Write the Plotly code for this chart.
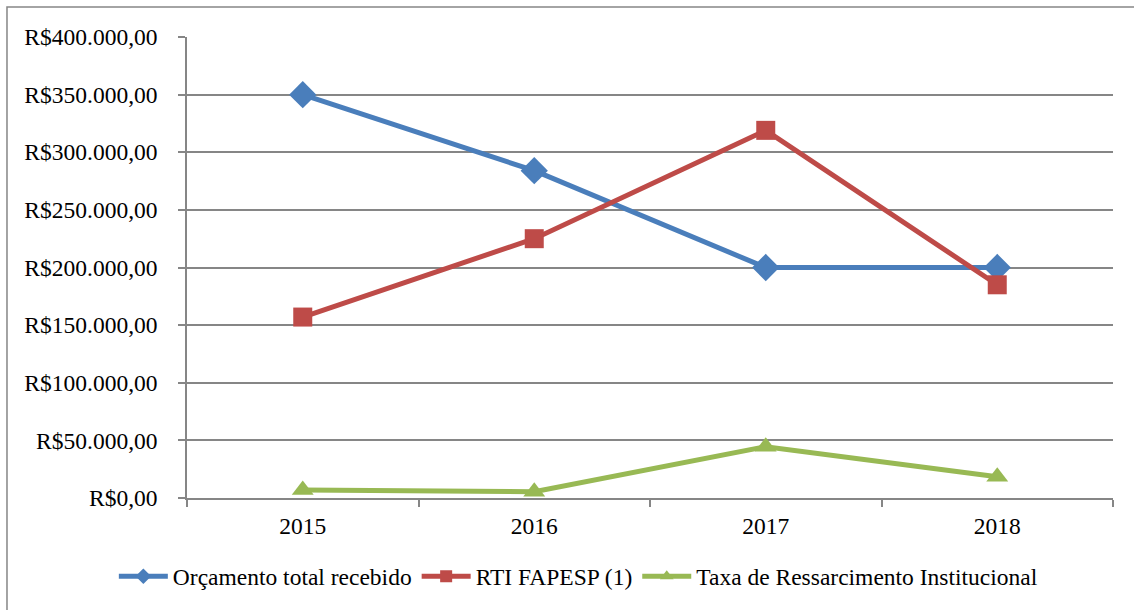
import plotly.graph_objects as go

years = ["2015", "2016", "2017", "2018"]
orcamento = [350000, 284000, 200000, 200000]
rti_fapesp = [157000, 225000, 319000, 185000]
taxa_ressarcimento = [7000, 5500, 44500, 18500]

SERIES = [
    ("Orçamento total recebido", orcamento, "#4A7EBB", "diamond", 21),
    ("RTI FAPESP (1)", rti_fapesp, "#BE4B48", "square", 19),
    ("Taxa de Ressarcimento Institucional", taxa_ressarcimento, "#98B954", "triangle-up", 19),
]

FONT = "Liberation Serif"
GRID = "#868686"

fig = go.Figure()
for name, vals, color, symbol, size in SERIES:
    fig.add_scatter(
        x=years, y=vals, name=name, mode="lines+markers",
        line=dict(color=color, width=5),
        marker=dict(symbol=symbol, size=size, color=color),
    )

# outer chart-area frame: only its top and left edges fall inside the picture
fig.add_shape(
    type="rect", xref="paper", yref="paper",
    x0=-0.1944, x1=1.06, y0=-0.27, y1=1.065,
    line=dict(color=GRID, width=1.5), layer="below",
)

fig.update_layout(
    width=1134, height=610,
    margin=dict(l=187, r=21, t=37, b=112, autoexpand=False),
    paper_bgcolor="white", plot_bgcolor="white",
    separators=",.",
    font=dict(family=FONT, size=23.5, color="black"),
    showlegend=True,
    legend=dict(
        orientation="h", xref="container", yref="container",
        x=0.51, xanchor="center", y=0.055, yanchor="middle",
        font=dict(family=FONT, size=23.5), itemwidth=49,
        itemsizing="constant", tracegroupgap=0,
    ),
)
fig.update_yaxes(
    range=[0, 400000], dtick=50000, tickprefix="R$", tickformat=",.2f",
    showgrid=True, gridcolor=GRID, gridwidth=1.5,
    showline=True, linecolor=GRID, linewidth=1.5,
    ticks="outside", ticklen=7, tickcolor=GRID, tickwidth=1.5,
    ticklabelstandoff=16, zeroline=False, automargin=False,
)
fig.update_xaxes(
    type="category", tickson="boundaries", range=[-0.5, 3.5],
    showline=True, linecolor=GRID, linewidth=1.5,
    ticks="outside", ticklen=7, tickcolor=GRID, tickwidth=1.5,
    showgrid=False, ticklabelstandoff=6, automargin=False,
)

# the page's default body margin would shift the whole figure by 8px
fig.write_html(
    "out.html",
    config={"displayModeBar": False},
    post_script="document.body.style.margin='0';",
)
